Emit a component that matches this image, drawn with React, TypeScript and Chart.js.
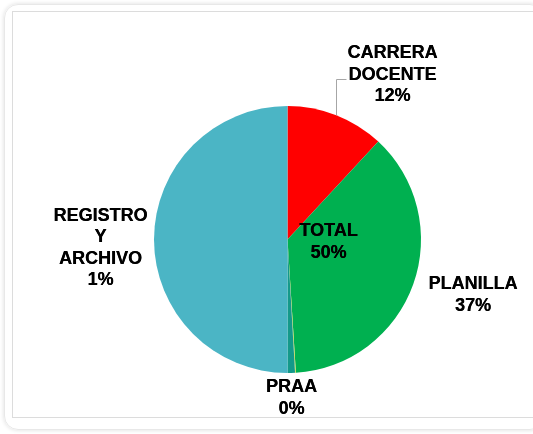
import React, { useEffect, useRef } from "react";
import { Chart, registerables } from "chart.js";

Chart.register(...registerables);

const categories = ["CARRERA DOCENTE", "PLANILLA", "PRAA", "REGISTRO Y ARCHIVO", "TOTAL"];
const labelLines = [["CARRERA", "DOCENTE"], ["PLANILLA"], ["PRAA"], ["REGISTRO", "Y", "ARCHIVO"], ["TOTAL"]];
const values = [11.9, 37.1, 0.1, 0.9, 50.0];
const colors = ["#ff0000", "#00b050", "#c9d54a", "#14998a", "#4bb5c5"];

// label block centre offsets from pie centre (px)
const labelOffsets = [
  [105, -164.5],
  [185.5, 55.5],
  [4, 158.5],
  [-187, 8.5],
  [41, 2.3],
];

const labelPlugin = {
  id: "pieLabels",
  afterDraw(chart: any) {
    const ctx = chart.ctx;
    const meta = chart.getDatasetMeta(0);
    const data = chart.data.datasets[0].data as number[];
    const total = data.reduce((a, b) => a + b, 0);
    const arc0 = meta.data[0];
    const cx = arc0.x;
    const cy = arc0.y;
    const lh = 21.5;
    ctx.save();
    ctx.font = "bold 18px 'Liberation Sans', Arial, sans-serif";
    ctx.fillStyle = "#000000";
    ctx.textAlign = "center";
    ctx.textBaseline = "middle";
    meta.data.forEach((arc: any, i: number) => {
      const lines = [...labelLines[i], Math.round((data[i] / total) * 100) + "%"];
      const bx = cx + labelOffsets[i][0];
      const by = cy + labelOffsets[i][1];
      const top = by - ((lines.length - 1) * lh) / 2;
      lines.forEach((t, k) => {
        ctx.fillText(t, bx, top + k * lh);
        ctx.fillText(t, bx + 0.3, top + k * lh);
      });
      if (i === 0) {
        // leader line from slice mid-angle to label
        const mid = (arc.startAngle + arc.endAngle) / 2;
        const px = cx + Math.cos(mid) * arc.outerRadius;
        const py = cy + Math.sin(mid) * arc.outerRadius;
        const ly = top + lh * 1.2;
        const lx = bx - ctx.measureText("DOCENTE").width / 2 - 2;
        ctx.strokeStyle = "#a6a6a6";
        ctx.lineWidth = 1;
        ctx.beginPath();
        ctx.moveTo(Math.round(px) + 0.5, py);
        ctx.lineTo(Math.round(px) + 0.5, Math.round(ly) + 0.5);
        ctx.lineTo(lx, Math.round(ly) + 0.5);
        ctx.stroke();
      }
    });
    ctx.restore();
  },
};

export default function App() {
  const ref = useRef<HTMLCanvasElement | null>(null);
  useEffect(() => {
    document.body.style.margin = "0";
    const chart = new Chart(ref.current!, {
      type: "pie",
      data: {
        labels: categories,
        datasets: [
          {
            data: values,
            backgroundColor: colors,
            borderWidth: 0,
          },
        ],
      },
      options: {
        responsive: false,
        animation: false,
        layout: { padding: { top: 106, bottom: 61, left: 154, right: 112 } },
        plugins: { legend: { display: false }, tooltip: { enabled: false } },
      },
      plugins: [labelPlugin],
    });
    return () => chart.destroy();
  }, []);
  return (
    <div style={{ position: "fixed", left: 0, top: 0, width: 533, height: 434, background: "#fff", overflow: "hidden" }}>
      <div
        style={{
          position: "absolute",
          left: 4,
          top: 4,
          width: 540,
          height: 426,
          borderRadius: 14,
          border: "1px solid #e8e8e8",
          boxShadow: "0 0 4px rgba(0,0,0,0.14)",
          boxSizing: "border-box",
        }}
      />
      <div
        style={{
          position: "absolute",
          left: 12,
          top: 11,
          width: 540,
          height: 407,
          borderTop: "1px solid #dcdcdc",
          borderLeft: "1px solid #dcdcdc",
          borderBottom: "1px solid #dcdcdc",
          boxSizing: "border-box",
        }}
      />
      <canvas ref={ref} width={533} height={434} style={{ position: "absolute", left: 0, top: 0 }} />
    </div>
  );
}
